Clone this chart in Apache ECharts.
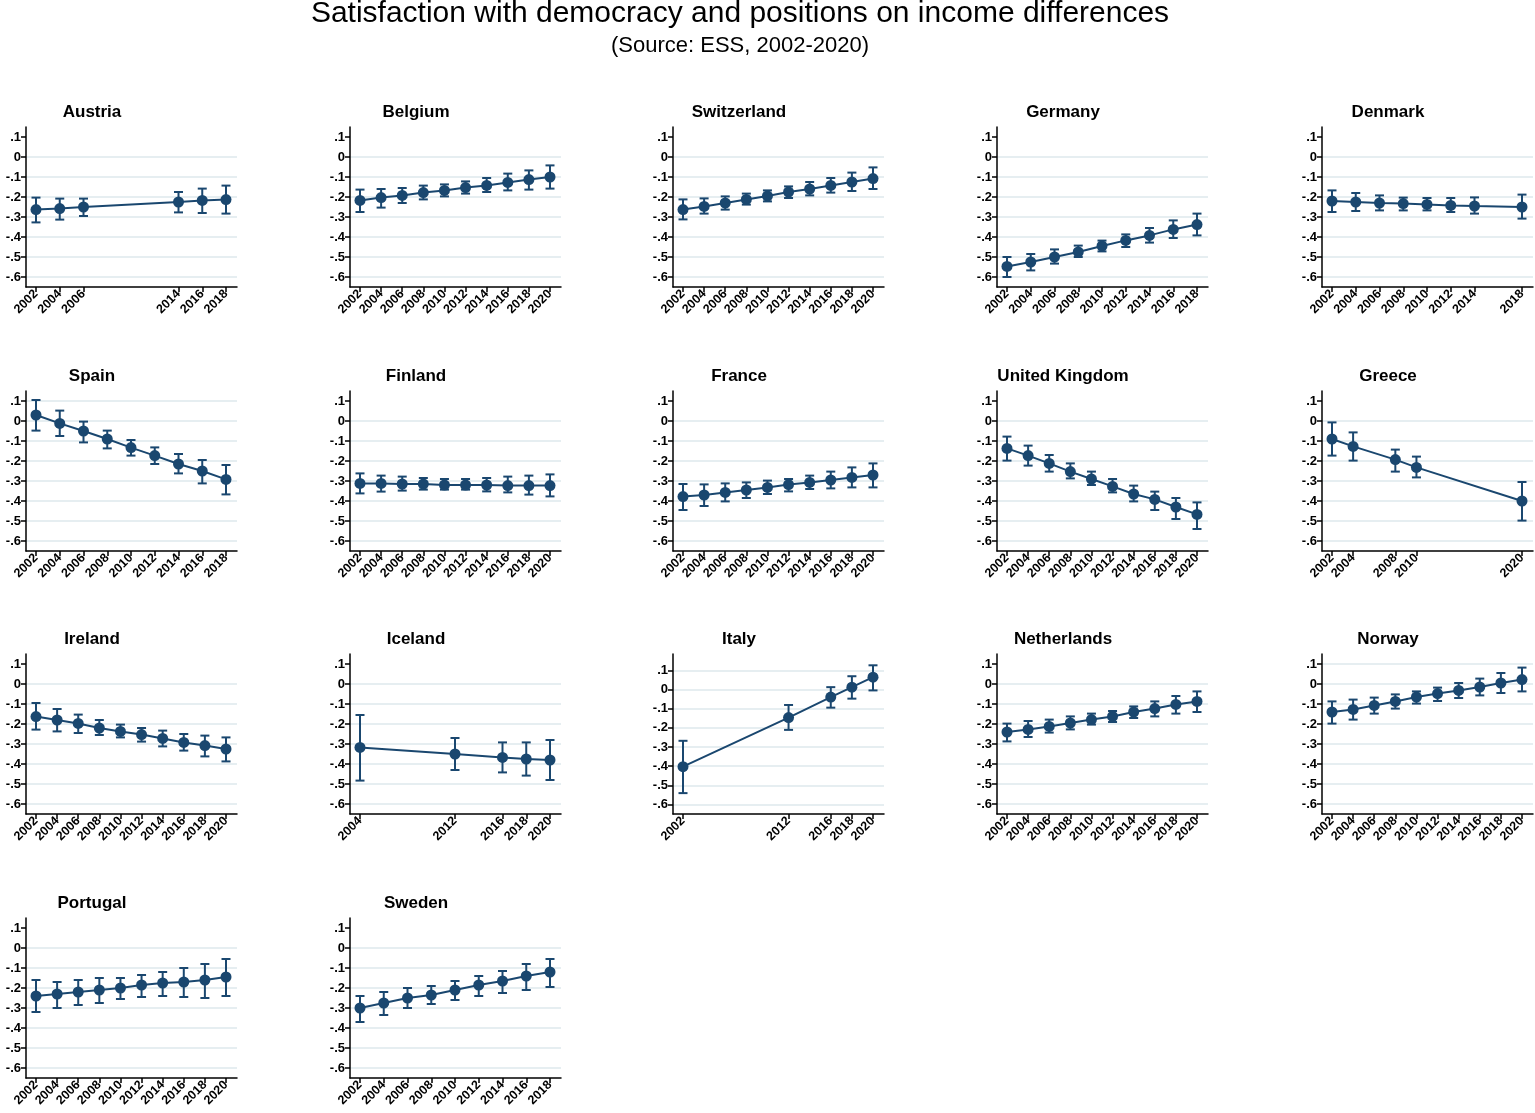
<!DOCTYPE html>
<html>
<head>
<meta charset="utf-8">
<script src="https://cdn.jsdelivr.net/npm/echarts@6/dist/echarts.min.js"></script>
<style>
html,body{margin:0;padding:0;background:#fff;}
#chart{width:1535px;height:1113px;}
</style>
</head>
<body>
<div id="chart"></div>
<script>
const mainTitle = 'Satisfaction with democracy and positions on income differences';
const subTitle = '(Source: ESS, 2002-2020)';
const countries = ['Austria','Belgium','Switzerland','Germany','Denmark','Spain','Finland','France','United Kingdom','Greece','Ireland','Iceland','Italy','Netherlands','Norway','Portugal','Sweden'];
const years = [
  [2002,2004,2006,2014,2016,2018],
  [2002,2004,2006,2008,2010,2012,2014,2016,2018,2020],
  [2002,2004,2006,2008,2010,2012,2014,2016,2018,2020],
  [2002,2004,2006,2008,2010,2012,2014,2016,2018],
  [2002,2004,2006,2008,2010,2012,2014,2018],
  [2002,2004,2006,2008,2010,2012,2014,2016,2018],
  [2002,2004,2006,2008,2010,2012,2014,2016,2018,2020],
  [2002,2004,2006,2008,2010,2012,2014,2016,2018,2020],
  [2002,2004,2006,2008,2010,2012,2014,2016,2018,2020],
  [2002,2004,2008,2010,2020],
  [2002,2004,2006,2008,2010,2012,2014,2016,2018,2020],
  [2004,2012,2016,2018,2020],
  [2002,2012,2016,2018,2020],
  [2002,2004,2006,2008,2010,2012,2014,2016,2018,2020],
  [2002,2004,2006,2008,2010,2012,2014,2016,2018,2020],
  [2002,2004,2006,2008,2010,2012,2014,2016,2018,2020],
  [2002,2004,2006,2008,2010,2012,2014,2016,2018]
];
const means = [
  [-0.263,-0.258,-0.250,-0.225,-0.217,-0.213],
  [-0.217,-0.203,-0.192,-0.178,-0.167,-0.153,-0.142,-0.127,-0.113,-0.100],
  [-0.263,-0.247,-0.230,-0.212,-0.195,-0.175,-0.160,-0.142,-0.125,-0.108],
  [-0.547,-0.525,-0.500,-0.475,-0.445,-0.417,-0.392,-0.362,-0.338],
  [-0.220,-0.225,-0.230,-0.233,-0.237,-0.242,-0.245,-0.250],
  [0.030,-0.012,-0.050,-0.090,-0.133,-0.173,-0.215,-0.250,-0.292],
  [-0.312,-0.312,-0.315,-0.315,-0.320,-0.320,-0.320,-0.323,-0.323,-0.323],
  [-0.378,-0.370,-0.357,-0.345,-0.332,-0.318,-0.307,-0.295,-0.282,-0.270],
  [-0.137,-0.173,-0.212,-0.253,-0.290,-0.327,-0.365,-0.392,-0.430,-0.467],
  [-0.090,-0.127,-0.193,-0.232,-0.400],
  [-0.163,-0.180,-0.197,-0.220,-0.237,-0.253,-0.272,-0.292,-0.308,-0.325],
  [-0.317,-0.350,-0.367,-0.375,-0.380],
  [-0.403,-0.147,-0.040,0.012,0.064],
  [-0.240,-0.227,-0.212,-0.195,-0.178,-0.162,-0.140,-0.123,-0.102,-0.087],
  [-0.140,-0.127,-0.107,-0.087,-0.065,-0.048,-0.032,-0.015,0.005,0.022],
  [-0.240,-0.230,-0.220,-0.210,-0.200,-0.185,-0.175,-0.170,-0.160,-0.145],
  [-0.300,-0.275,-0.250,-0.235,-0.210,-0.185,-0.165,-0.140,-0.120]
];
const lowCI = [
  [-0.327,-0.313,-0.295,-0.277,-0.280,-0.283],
  [-0.275,-0.253,-0.230,-0.212,-0.197,-0.183,-0.175,-0.167,-0.163,-0.158],
  [-0.312,-0.283,-0.263,-0.238,-0.222,-0.205,-0.192,-0.178,-0.170,-0.160],
  [-0.600,-0.567,-0.533,-0.500,-0.472,-0.450,-0.428,-0.405,-0.392],
  [-0.275,-0.270,-0.267,-0.267,-0.267,-0.275,-0.283,-0.308],
  [-0.048,-0.075,-0.107,-0.137,-0.173,-0.215,-0.262,-0.312,-0.367],
  [-0.362,-0.353,-0.348,-0.343,-0.343,-0.343,-0.352,-0.357,-0.368,-0.377],
  [-0.445,-0.425,-0.402,-0.385,-0.365,-0.352,-0.340,-0.337,-0.332,-0.332],
  [-0.198,-0.223,-0.253,-0.287,-0.320,-0.357,-0.402,-0.445,-0.490,-0.540],
  [-0.173,-0.198,-0.253,-0.282,-0.498],
  [-0.228,-0.237,-0.245,-0.255,-0.267,-0.288,-0.312,-0.333,-0.362,-0.387],
  [-0.483,-0.430,-0.442,-0.458,-0.480],
  [-0.541,-0.211,-0.095,-0.048,-0.005],
  [-0.287,-0.265,-0.243,-0.227,-0.203,-0.190,-0.170,-0.162,-0.148,-0.140],
  [-0.198,-0.178,-0.148,-0.123,-0.098,-0.085,-0.070,-0.057,-0.045,-0.037],
  [-0.320,-0.300,-0.285,-0.275,-0.255,-0.245,-0.240,-0.245,-0.250,-0.240],
  [-0.370,-0.335,-0.300,-0.280,-0.260,-0.240,-0.225,-0.210,-0.195]
];
const highCI = [
  [-0.203,-0.208,-0.208,-0.175,-0.158,-0.143],
  [-0.163,-0.160,-0.155,-0.143,-0.137,-0.122,-0.105,-0.083,-0.067,-0.042],
  [-0.212,-0.207,-0.197,-0.183,-0.167,-0.147,-0.125,-0.105,-0.078,-0.052],
  [-0.500,-0.485,-0.462,-0.443,-0.418,-0.387,-0.355,-0.317,-0.283],
  [-0.167,-0.180,-0.192,-0.203,-0.205,-0.205,-0.202,-0.188],
  [0.105,0.052,-0.003,-0.048,-0.095,-0.132,-0.165,-0.195,-0.220],
  [-0.262,-0.273,-0.278,-0.285,-0.290,-0.290,-0.285,-0.278,-0.273,-0.267],
  [-0.315,-0.317,-0.312,-0.307,-0.298,-0.290,-0.273,-0.253,-0.232,-0.212],
  [-0.078,-0.123,-0.170,-0.212,-0.253,-0.290,-0.323,-0.353,-0.385,-0.407],
  [-0.007,-0.057,-0.143,-0.178,-0.305],
  [-0.095,-0.125,-0.153,-0.180,-0.203,-0.220,-0.233,-0.250,-0.258,-0.267],
  [-0.155,-0.270,-0.292,-0.292,-0.280],
  [-0.268,-0.081,0.012,0.069,0.126],
  [-0.198,-0.185,-0.178,-0.162,-0.148,-0.135,-0.112,-0.087,-0.060,-0.037],
  [-0.087,-0.078,-0.068,-0.052,-0.037,-0.018,0.005,0.027,0.055,0.082],
  [-0.160,-0.170,-0.160,-0.150,-0.150,-0.135,-0.120,-0.100,-0.080,-0.055],
  [-0.240,-0.220,-0.200,-0.190,-0.165,-0.140,-0.115,-0.080,-0.055]
];
const yTicks = [-0.6,-0.5,-0.4,-0.3,-0.2,-0.1,0,0.1];
const yGridBase = [-0.6,-0.5,-0.4,-0.3,-0.2,-0.1,0];
const yMaxItaly = 0.185;

const NAVY = '#1a476f';
const GRIDC = '#e6eef1';
const FONT = '"Liberation Sans", Arial, Helvetica, sans-serif';
const colX = [26, 350, 673, 997, 1322];
const rowTop = [127, 391, 654, 918];
const PW = 211, PH = 160;

function fmtY(v){
  const r = Math.round(v*10);
  if (r === 0) return '0';
  return (r < 0 ? '-' : '') + '.' + Math.abs(r);
}

const titles = [{
  text: mainTitle, left: 740, top: -1, textAlign: 'center', textVerticalAlign: 'top', padding: 0,
  textStyle: {fontFamily: FONT, fontSize: 30, fontWeight: 'normal', color: '#000'}
},{
  text: subTitle, left: 740, top: 35, textAlign: 'center', textVerticalAlign: 'top', padding: 0,
  textStyle: {fontFamily: FONT, fontSize: 22, fontWeight: 'normal', color: '#000'}
}];
const grids = [], xAxes = [], yAxes = [], series = [];

countries.forEach(function(name, i){
  const c = i % 5, r = Math.floor(i / 5);
  const left = colX[c], top = rowTop[r];
  titles.push({
    text: name, left: left + 66, top: top - 23, textAlign: 'center', textVerticalAlign: 'top', padding: 0,
    textStyle: {fontFamily: FONT, fontSize: 17, fontWeight: 'bold', color: '#000'}
  });
  grids.push({left: left, top: top, width: PW, height: PH, containLabel: false});
  const yr = years[i];
  const span = yr[yr.length-1] - yr[0];
  const topCI = Math.max.apply(null, highCI[i]);
  const gridVals = topCI > 0.05 ? yTicks : yGridBase;
  xAxes.push({
    type: 'value', gridIndex: i,
    min: yr[0] - span * 10 / 190,
    max: yr[yr.length-1] + span * 11 / 190,
    axisLine: {show: true, onZero: false, lineStyle: {color: '#000', width: 1.5}},
    axisTick: {show: true, length: 5, customValues: yr, lineStyle: {color: '#000', width: 1.5}},
    axisLabel: {customValues: yr, rotate: 45, margin: 5, fontFamily: FONT, fontSize: 12.5, fontWeight: 'bold', color: '#000', formatter: function(v){return String(v);}},
    splitLine: {show: false}
  });
  yAxes.push({
    type: 'value', gridIndex: i,
    min: -0.65, max: (name === 'Italy' ? yMaxItaly : 0.15),
    axisLine: {show: true, lineStyle: {color: '#000', width: 1.5}},
    axisTick: {show: true, length: 5, customValues: yTicks, lineStyle: {color: '#000', width: 1.5}},
    axisLabel: {customValues: yTicks, margin: 5, fontFamily: FONT, fontSize: 13, fontWeight: 'bold', color: '#000', formatter: fmtY},
    splitLine: {show: false}
  });
  const pts = yr.map(function(y, k){ return [y, means[i][k]]; });
  const errs = yr.map(function(y, k){ return [y, lowCI[i][k], highCI[i][k]]; });
  series.push({
    type: 'line', xAxisIndex: i, yAxisIndex: i, silent: true, z: 0,
    data: [], showSymbol: false,
    markLine: {
      silent: true, symbol: ['none','none'], animation: false, z: 0,
      label: {show: false},
      lineStyle: {color: GRIDC, width: 2, type: 'solid'},
      emphasis: {disabled: true},
      data: gridVals.map(function(v){ return {yAxis: v}; })
    }
  });
  series.push({
    type: 'custom', xAxisIndex: i, yAxisIndex: i, silent: true, z: 2,
    data: errs,
    encode: {x: 0, y: [1, 2]},
    renderItem: function(params, api){
      const lo = api.coord([api.value(0), api.value(1)]);
      const hi = api.coord([api.value(0), api.value(2)]);
      const w = 4.5;
      const st = {stroke: NAVY, lineWidth: 2};
      return {type: 'group', children: [
        {type: 'line', shape: {x1: lo[0], y1: lo[1], x2: hi[0], y2: hi[1]}, style: st},
        {type: 'line', shape: {x1: lo[0]-w, y1: lo[1], x2: lo[0]+w, y2: lo[1]}, style: st},
        {type: 'line', shape: {x1: hi[0]-w, y1: hi[1], x2: hi[0]+w, y2: hi[1]}, style: st}
      ]};
    }
  });
  series.push({
    type: 'line', xAxisIndex: i, yAxisIndex: i, silent: true, z: 3,
    data: pts, symbol: 'circle', symbolSize: 11, showSymbol: true,
    itemStyle: {color: NAVY}, lineStyle: {color: NAVY, width: 2},
    animation: false
  });
});

const chart = echarts.init(document.getElementById('chart'), null, {renderer: 'canvas'});
chart.setOption({
  backgroundColor: '#fff',
  animation: false,
  title: titles,
  grid: grids,
  xAxis: xAxes,
  yAxis: yAxes,
  series: series
});
</script>
</body>
</html>
